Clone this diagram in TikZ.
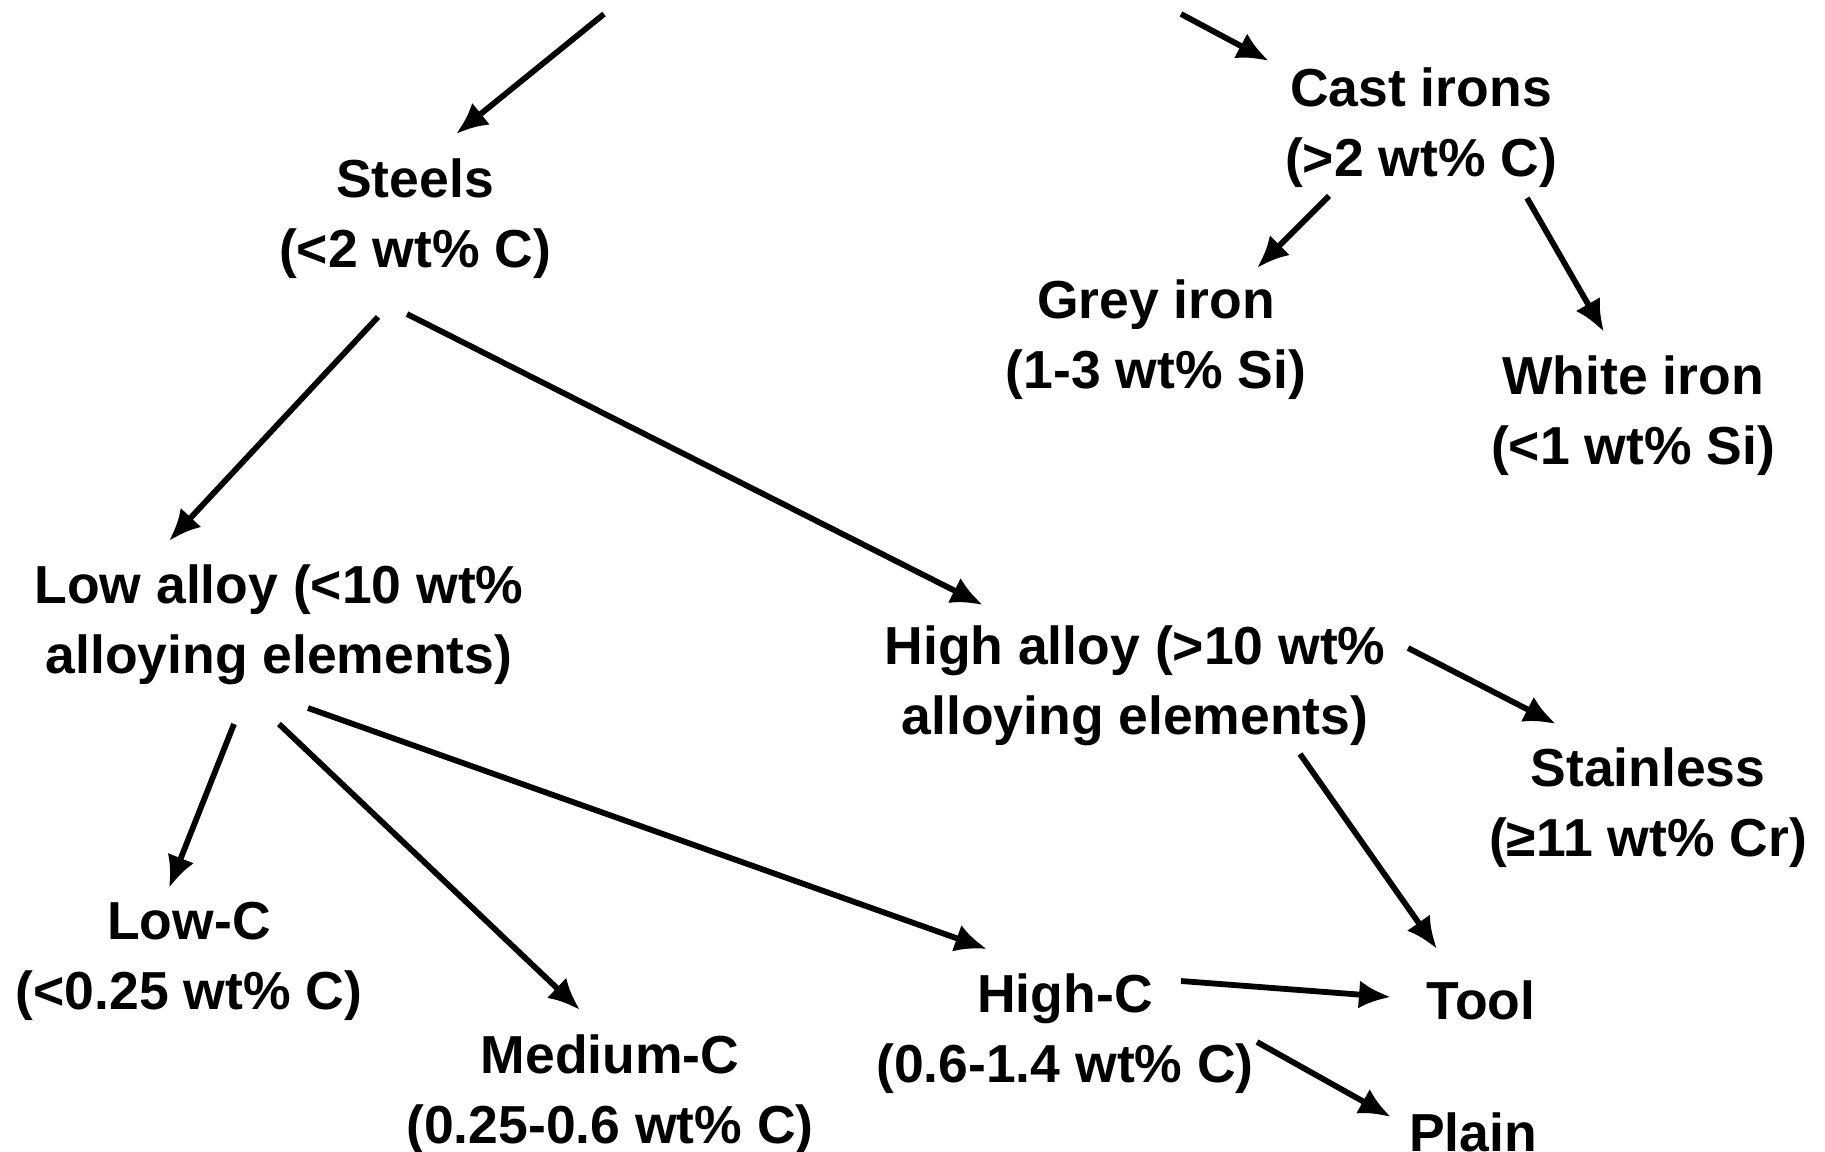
\documentclass[tikz,border=0pt]{standalone}
\usepackage{fontspec}
\setmainfont{Liberation Sans}
\usetikzlibrary{arrows.meta}
\begin{document}
\begin{tikzpicture}[x=1pt,y=-1pt,
  lbl/.style={font=\fontsize{53.5}{70}\selectfont\bfseries, align=center, inner sep=0pt},
  arr/.style={line width=5.8pt, -{Latex[length=32pt,width=28pt]}}]
\useasboundingbox (0,0) rectangle (1825,1151);
\coordinate (topL) at (604,14);
\coordinate (topR) at (1181,14);
\node[lbl] (steels) at (415,219) {Steels\\(<2 wt\% C)};
\node[lbl] (cast) at (1421,128) {Cast irons\\(>2 wt\% C)};
\node[lbl] (grey) at (1156,340) {Grey iron\\(1-3 wt\% Si)};
\node[lbl] (white) at (1633,416) {White iron\\(<1 wt\% Si)};
\node[lbl] (low) at (279,625) {Low alloy (<10 wt\%\\alloying elements)};
\node[lbl] (high) at (1135,686) {High alloy (>10 wt\%\\alloying elements)};
\node[lbl] (stain) at (1648,808) {Stainless\\(≥11 wt\% Cr)};
\node[lbl] (lowc) at (189,961) {Low-C\\(<0.25 wt\% C)};
\node[lbl] (medc) at (610,1095) {Medium-C\\(0.25-0.6 wt\% C)};
\node[lbl] (highc) at (1065,1034) {High-C\\(0.6-1.4 wt\% C)};
\node[lbl] (tool) at (1481,1000) {Tool};
\node[lbl] (plain) at (1473,1132) {Plain};
\draw[arr] (topL) -- ([shift={(41,-85)}]steels.center);
\draw[arr] (topR) -- ([shift={(-152,-67)}]cast.center);
\draw[arr] ([shift={(-92,68)}]cast.center) -- ([shift={(101,-72)}]grey.center);
\draw[arr] ([shift={(106,70)}]cast.center) -- ([shift={(-29,-84)}]white.center);
\draw[arr] ([shift={(-37,98)}]steels.center) -- ([shift={(-110,-84)}]low.center);
\draw[arr] ([shift={(-8,95)}]steels.center) -- ([shift={(-152,-81)}]high.center);
\draw[arr] ([shift={(273,-38)}]high.center) -- ([shift={(-92,-84)}]stain.center);
\draw[arr] ([shift={(165,68)}]high.center) -- ([shift={(-44,-51)}]tool.center);
\draw[arr] ([shift={(-45,99)}]low.center) -- ([shift={(-20,-73)}]lowc.center);
\draw[arr] ([shift={(0,99)}]low.center) -- ([shift={(-30,-85)}]medc.center);
\draw[arr] ([shift={(29,83)}]low.center) -- ([shift={(-78,-85)}]highc.center);
\draw[arr] ([shift={(116,-53)}]highc.center) -- ([shift={(-90,-3)}]tool.center);
\draw[arr] ([shift={(192,8)}]highc.center) -- ([shift={(-82,-15)}]plain.center);
\end{tikzpicture}
\end{document}
